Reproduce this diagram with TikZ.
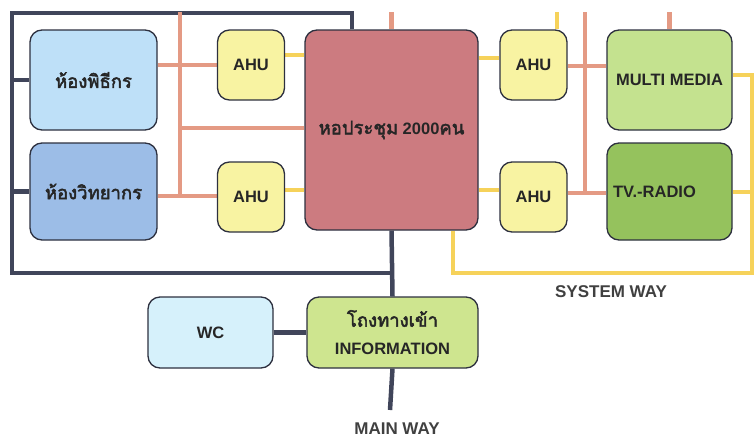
\documentclass[tikz,border=0pt]{standalone}
\usepackage{fontspec}
\setmainfont{Liberation Sans}
\newfontfamily\thaifont[Script=Thai, Scale=1.12, AutoFakeBold=2.5]{Loma}
\usetikzlibrary{backgrounds}
\definecolor{wayNavy}{HTML}{40455A}
\definecolor{waySalmon}{HTML}{E49A84}
\definecolor{wayYellow}{HTML}{F6D25A}
\definecolor{hallRose}{HTML}{CC7B80}
\definecolor{ahuYellow}{HTML}{F8F3A2}
\definecolor{hostBlue}{HTML}{BEE0F8}
\definecolor{speakerBlue}{HTML}{9CBDE7}
\definecolor{mediaGreen}{HTML}{C4E28F}
\definecolor{radioGreen}{HTML}{95C25D}
\definecolor{wcCyan}{HTML}{D6F1FB}
\definecolor{infoGreen}{HTML}{CEE58F}

\tikzset{
  room/.style={draw=wayNavy!70!black, line width=1.3pt, rounded corners=12pt,
    inner sep=0pt, align=center, text=black!85,
    font=\bfseries\fontsize{16.5}{28}\selectfont},
  ahu/.style={room, fill=ahuYellow, minimum width=67pt, minimum height=70pt},
  mainway/.style={wayNavy, line width=4.5pt},
  airway/.style={waySalmon, line width=4.5pt},
  sysway/.style={wayYellow, line width=3.8pt},
  waylabel/.style={font=\bfseries\fontsize{17}{18}\selectfont, text=black!75}
}

\begin{document}
\begin{tikzpicture}[x=1pt,y=-1pt]
  \useasboundingbox (0,0) rectangle (754,439);

  \node[room, fill=hostBlue, minimum width=127pt, minimum height=100pt] (host) at (93.5,80) {\thaifont ห้องพิธีกร};
  \node[room, fill=speakerBlue, minimum width=127pt, minimum height=97pt] (speaker) at (93.5,191.5) {\thaifont ห้องวิทยากร};
  \node[ahu] (ahuA) at (251,65) {AHU};
  \node[ahu] (ahuB) at (251,197) {AHU};
  \node[room, fill=hallRose, minimum width=173pt, minimum height=200pt] (hall) at (391.5,130) {{\thaifont หอประชุม} 2000{\thaifont คน}};
  \node[ahu] (ahuC) at (533.5,65) {AHU};
  \node[ahu] (ahuD) at (533.5,197) {AHU};
  \node[room, fill=mediaGreen, minimum width=125pt, minimum height=100pt] (media) at (669.5,80) {MULTI MEDIA};
  \node[room, fill=radioGreen, minimum width=125pt, minimum height=97pt, text width=113pt, align=left] (radio) at (669.5,191.5) {TV.-RADIO};
  \node[room, fill=wcCyan, minimum width=125pt, minimum height=71pt] (wc) at (210.5,332.5) {WC};
  \node[room, fill=infoGreen, minimum width=171pt, minimum height=71pt] (info) at (392.5,332.5) {{\thaifont โถงทางเข้า}\\INFORMATION};

  \node[waylabel] (syslabel) at (611,292) {SYSTEM WAY};
  \node[waylabel] (mainlabel) at (397,429) {MAIN WAY};

  \coordinate (navyNW) at (12,13);
  \coordinate (navySW) at (12,273);
  \coordinate (mainEnd) at (390,410);
  \coordinate (airTopL) at (180,12);
  \coordinate (airTopR) at (585,12);
  \coordinate (sysTop) at (557,12);
  \coordinate (sysE) at (752,273);

  \begin{scope}[on background layer]
    % main way
    \draw[mainway] (hall.north -| 352,0) -- (352,13) -- (navyNW) -- (navySW) -- (navySW -| hall.south) coordinate (mainJoin);
    \draw[mainway] (hall.south) -- (info.north);
    \draw[mainway] (info.south) -- (mainEnd);
    \draw[mainway] (navyNW |- host.west) -- (host.west);
    \draw[mainway] (navyNW |- speaker.west) -- (speaker.west);
    \draw[mainway] (wc.east) -- (info.west);
    % air ducts
    \draw[airway] (airTopL) -- (airTopL |- 0,196);
    \draw[airway] (host.east |- ahuA.west) -- (ahuA.west);
    \draw[airway] (airTopL |- 0,128) -- (hall.west |- 0,128);
    \draw[airway] (speaker.east |- 0,196) -- (ahuB.west |- 0,196);
    \draw[airway] (hall.north |- 0,12) -- (hall.north);
    \draw[airway] (airTopR) -- (airTopR |- 0,193);
    \draw[airway] (ahuC.east |- 0,66) -- (media.west |- 0,66);
    \draw[airway] (ahuD.east |- 0,193) -- (radio.west |- 0,193);
    \draw[airway] (media.north |- 0,12) -- (media.north);
    % system way
    \draw[sysway] (ahuA.east |- 0,55) -- (hall.west |- 0,55);
    \draw[sysway] (ahuB.east |- 0,190) -- (hall.west |- 0,190);
    \draw[sysway] (hall.east |- 0,58) -- (ahuC.west |- 0,58);
    \draw[sysway] (hall.east |- 0,190) -- (ahuD.west |- 0,190);
    \draw[sysway] (sysTop) -- (sysTop |- ahuC.north);
    \draw[sysway] (hall.south -| 453,0) -- (453,273) -- (sysE) -- (sysE |- 0,75) -- (media.east |- 0,75);
    \draw[sysway] (radio.east |- 0,192) -- (sysE |- 0,192);
  \end{scope}
\end{tikzpicture}
\end{document}
